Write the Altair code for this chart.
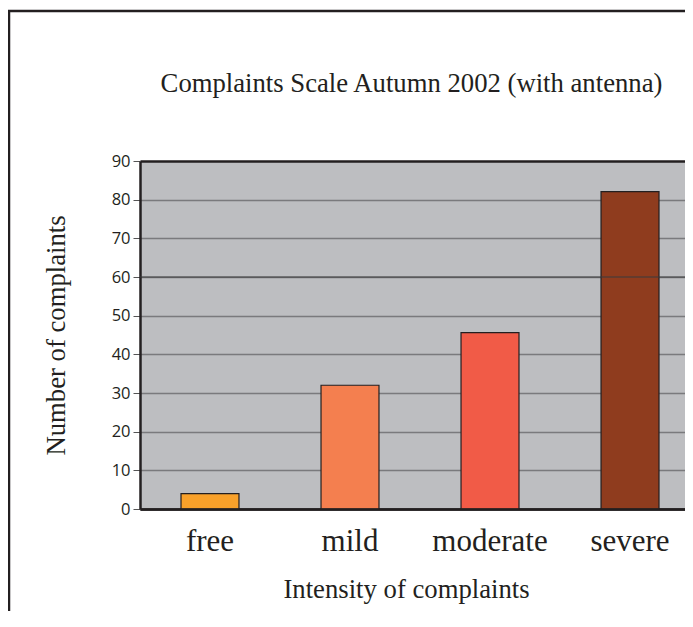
import altair as alt
import pandas as pd

# ---- data ----
categories = ["free", "mild", "moderate", "severe"]
complaints = [4, 32, 45.6, 82.1]
bar_colors = ["#F9A12A", "#F47F4F", "#F15B47", "#8F3C1E"]
y_ticks = [0, 10, 20, 30, 40, 50, 60, 70, 80, 90]
highlight_lines = [60]

title_text = "Complaints Scale Autumn 2002 (with antenna)"
x_title = "Intensity of complaints"
y_title = "Number of complaints"

df = pd.DataFrame({"intensity": categories, "count": complaints})
hl = pd.DataFrame({"count": highlight_lines})
frame_df = pd.DataFrame({"k": [0]})

W, H = 545, 348
DARK = "#231f20"

x_scale = alt.Scale(domain=categories, paddingInner=0.586, paddingOuter=0.2393,
                    align=0.612)
y_scale = alt.Scale(domain=[0, 90], nice=False)

grid_color = {"condition": {"test": "datum.value === 90 || datum.value === 0",
                            "value": DARK},
              "value": "#7a7a7d"}
grid_width = {"condition": {"test": "datum.value === 90 || datum.value === 0",
                            "value": 2.5},
              "value": 1.4}

y_axis = alt.Axis(title=y_title, values=y_ticks, grid=True,
                  gridColor=grid_color, gridWidth=grid_width,
                  domain=True, domainColor=DARK, domainWidth=2.5,
                  ticks=True, tickSize=7, tickColor="#555555", tickWidth=1,
                  labelFont="Open Sans", labelFontSize=16.5, labelColor=DARK,
                  labelPadding=3, labelOverlap=False,
                  titleFont="Liberation Serif", titleFontSize=26.7,
                  titleFontWeight="normal", titleColor=DARK,
                  titleX=-84, titleY=H / 2, titleAngle=270,
                  titleAlign="center", titleBaseline="middle")

frame = alt.Chart(frame_df).mark_rect(
    fillOpacity=0, stroke=DARK, strokeWidth=2.5
).encode(
    x=alt.value(-131), x2=alt.value(W + 60),
    y=alt.value(-150), y2=alt.value(H + 300)
)

bars = alt.Chart(df).mark_bar(stroke=DARK, strokeWidth=1.2).encode(
    x=alt.X("intensity:N", sort=categories, scale=x_scale,
            axis=alt.Axis(title=x_title, labelAngle=0, ticks=False, tickSize=0,
                          domain=True, domainColor=DARK, domainWidth=2.5,
                          labelFont="Liberation Serif", labelFontSize=31,
                          labelColor=DARK, labelBaseline="alphabetic",
                          labelPadding=41, zindex=1,
                          titleFont="Liberation Serif", titleFontSize=26.7,
                          titleFontWeight="normal", titleColor=DARK,
                          titleX=266, titleY=88, titleAlign="center",
                          titleBaseline="alphabetic")),
    y=alt.Y("count:Q", scale=y_scale, axis=y_axis),
    color=alt.Color("intensity:N", scale=alt.Scale(domain=categories, range=bar_colors),
                    legend=None),
)

rule60 = alt.Chart(hl).mark_rule(color="#3a3a3c", strokeWidth=2, opacity=0.5).encode(
    y=alt.Y("count:Q", scale=y_scale, axis=y_axis)
)

chart = alt.layer(frame, bars, rule60).properties(
    width=W, height=H,
    background="white",
    title=alt.Title(title_text, font="Liberation Serif", fontSize=26.7,
                    fontWeight="normal", color=DARK, anchor="middle",
                    baseline="alphabetic", offset=0, dy=109, dx=-1),
    autosize=alt.AutoSizeParams(type="none"),
    padding={"left": 132, "top": 153, "right": 0, "bottom": 102},
).configure_view(fill="#BDBEC1", strokeWidth=0)

chart.save("out.html", embed_options={"renderer": "svg", "actions": False})
